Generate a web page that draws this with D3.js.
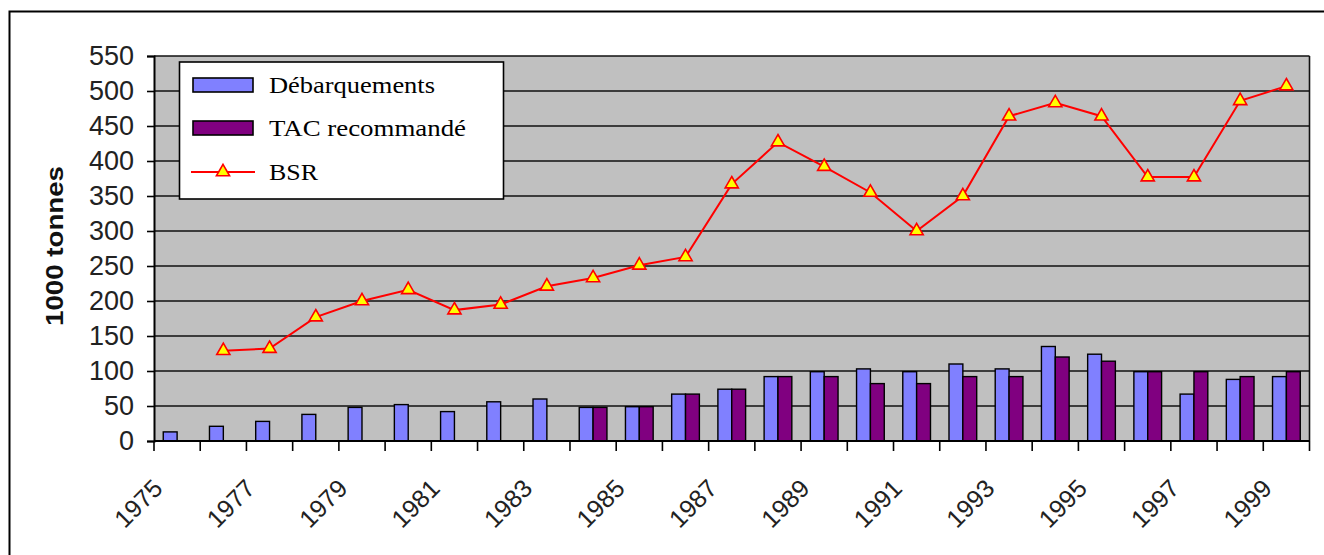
<!DOCTYPE html>
<html><head><meta charset="utf-8">
<script src="https://cdn.jsdelivr.net/npm/d3@7"></script>
<style>body{margin:0;background:#fff}</style>
</head><body><svg id="c" width="1324" height="555"></svg>
<script>
const years = ["1975","1976","1977","1978","1979","1980","1981","1982","1983","1984","1985","1986","1987","1988","1989","1990","1991","1992","1993","1994","1995","1996","1997","1998","1999"];
const debarquements = [13,21,28,38,48,52,42,56,60,48,49,67,74,92,99,103,99,110,103,135,124,99,67,88,92];
const tacRecommande = [null,null,null,null,null,null,null,null,null,48,49,67,74,92,92,82,82,92,92,120,114,99,99,92,99];
const bsr = [null,129,132,177,200,216,187,195,221,233,251,263,367,427,392,355,300,350,464,483,464,377,377,486,507];
const yTicks = [0,50,100,150,200,250,300,350,400,450,500,550];
const xLabelYears = ["1975","1977","1979","1981","1983","1985","1987","1989","1991","1993","1995","1997","1999"];
const seriesNames = ["Débarquements","TAC recommandé","BSR"];
const colors = {deb:"#8080ff", tac:"#800080", bsr:"#ff0000", marker:"#ffff00", plot:"#c0c0c0"};

(function(){
const svg = d3.select("#c");
svg.append("rect").attr("width",1324).attr("height",555).attr("fill","#fff");
svg.append("rect").attr("x",9.5).attr("y",11.5).attr("width",1340).attr("height",570)
  .attr("fill","none").attr("stroke","#000").attr("stroke-width",2);

const pL=154, pR=1309.5, pT=56, pB=441;
const x = d3.scaleBand().domain(years).range([pL,pR]).padding(0);
const x1 = d3.scaleBand().domain(["deb","tac"]).range([0,x.bandwidth()]).paddingInner(0).paddingOuter(0.668);
const y = d3.scaleLinear().domain([0,550]).range([pB,pT]);

// plot area
svg.append("rect").attr("x",pL).attr("y",pT).attr("width",pR-pL).attr("height",pB-pT).attr("fill",colors.plot);
svg.append("g").selectAll("line").data(yTicks.filter(d=>d>0)).join("line")
  .attr("x1",pL).attr("x2",pR).attr("y1",d=>y(d)).attr("y2",d=>y(d))
  .attr("stroke","#111").attr("stroke-width",1.6);
svg.append("line").attr("x1",pR).attr("x2",pR).attr("y1",pT).attr("y2",pB).attr("stroke","#111").attr("stroke-width",1.6);

// bars
const barData = [];
years.forEach((yr,i)=>{
  if(debarquements[i]!=null) barData.push({yr, k:"deb", v:debarquements[i]});
  if(tacRecommande[i]!=null) barData.push({yr, k:"tac", v:tacRecommande[i]});
});
svg.append("g").selectAll("rect").data(barData).join("rect")
  .attr("x",d=>x(d.yr)+x1(d.k)).attr("width",x1.bandwidth())
  .attr("y",d=>y(d.v)).attr("height",d=>y(0)-y(d.v))
  .attr("fill",d=>colors[d.k]).attr("stroke","#000").attr("stroke-width",1.4);

// axes
const yAxis = d3.axisLeft(y).tickValues(yTicks).tickSize(7).tickPadding(13);
const gy = svg.append("g").attr("transform",`translate(${pL},0)`).call(yAxis);
gy.select(".domain").attr("stroke","#000").attr("stroke-width",2);
gy.selectAll(".tick line").attr("stroke","#000").attr("stroke-width",1.6);
gy.selectAll(".tick text").attr("font-family","Liberation Sans, Arial, sans-serif").attr("font-size",27).attr("fill","#222");

const boundaries = years.map(d=>x(d)).concat([pR]);
svg.append("g").selectAll("line").data(boundaries).join("line")
  .attr("x1",d=>d).attr("x2",d=>d).attr("y1",pB).attr("y2",pB+10)
  .attr("stroke","#000").attr("stroke-width",1.6);
svg.append("line").attr("x1",pL).attr("x2",pR).attr("y1",pB).attr("y2",pB).attr("stroke","#000").attr("stroke-width",2);

svg.append("g").selectAll("text").data(xLabelYears).join("text")
  .attr("transform",d=>`translate(${x(d)+x.bandwidth()/2-13},490) rotate(-45)`)
  .attr("text-anchor","end")
  .attr("font-family","Liberation Sans, Arial, sans-serif").attr("font-size",25).attr("fill","#222")
  .text(d=>d);

// BSR line
const pts = years.map((yr,i)=>({yr, v:bsr[i]})).filter(d=>d.v!=null);
const cx = d=>x(d.yr)+x.bandwidth()/2;
svg.append("path").datum(pts)
  .attr("d",d3.line().x(cx).y(d=>y(d.v)))
  .attr("fill","none").attr("stroke",colors.bsr).attr("stroke-width",2);
const tri = d3.symbol(d3.symbolTriangle).size(75);
svg.append("g").selectAll("path").data(pts).join("path")
  .attr("d",tri).attr("transform",d=>`translate(${cx(d)},${y(d.v)})`)
  .attr("fill",colors.marker).attr("stroke",colors.bsr).attr("stroke-width",1.6);

// y title
svg.append("text").attr("transform","translate(63,246) rotate(-90)")
  .attr("text-anchor","middle").attr("font-family","Liberation Sans, Arial, sans-serif")
  .attr("font-weight","bold").attr("font-size",24).attr("fill","#111")
  .attr("textLength",160).attr("lengthAdjust","spacingAndGlyphs")
  .text("1000 tonnes");

// legend
const lg = svg.append("g");
lg.append("rect").attr("x",179.5).attr("y",62).attr("width",324).attr("height",137)
  .attr("fill","#fff").attr("stroke","#000").attr("stroke-width",1.6);
const legendItems = [
  {name:seriesNames[0], type:"bar", color:colors.deb, yMid:85, w:166},
  {name:seriesNames[1], type:"bar", color:colors.tac, yMid:128, w:197},
  {name:seriesNames[2], type:"line", color:colors.bsr, yMid:172, w:49}
];
legendItems.forEach(it=>{
  if(it.type==="bar"){
    lg.append("rect").attr("x",193).attr("y",it.yMid-7).attr("width",60).attr("height",14)
      .attr("fill",it.color).attr("stroke","#000").attr("stroke-width",1.6);
  } else {
    lg.append("line").attr("x1",191).attr("x2",255).attr("y1",it.yMid).attr("y2",it.yMid)
      .attr("stroke",it.color).attr("stroke-width",2);
    lg.append("path").attr("d",tri).attr("transform",`translate(223,${it.yMid})`)
      .attr("fill",colors.marker).attr("stroke",colors.bsr).attr("stroke-width",1.6);
  }
  lg.append("text").attr("x",269).attr("y",it.yMid+8)
    .attr("font-family","Liberation Serif, Times New Roman, serif").attr("font-size",23).attr("fill","#000")
    .attr("textLength",it.w).attr("lengthAdjust","spacingAndGlyphs")
    .text(it.name);
});
})();
</script></body></html>
